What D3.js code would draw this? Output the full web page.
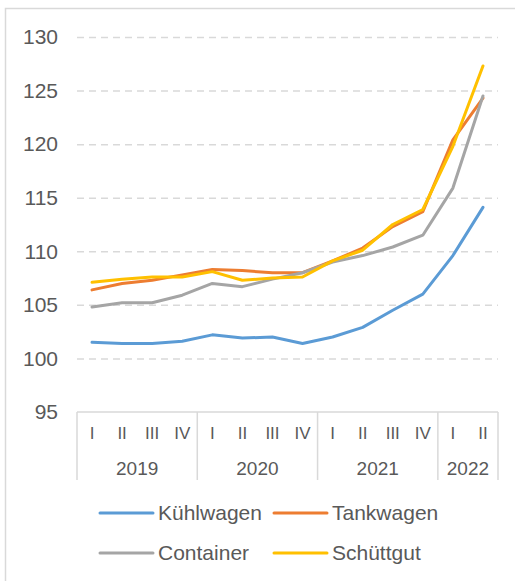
<!DOCTYPE html>
<html>
<head>
<meta charset="utf-8">
<script src="https://cdn.jsdelivr.net/npm/d3@7"></script>
<style>
  html, body { margin: 0; padding: 0; background: #fff; }
  svg { display: block; font-family: "Liberation Sans", Arial, sans-serif; }
</style>
</head>
<body>
<div id="chart"></div>
<script>
const quarters = ["I","II","III","IV","I","II","III","IV","I","II","III","IV","I","II"];
const years = [
  {label: "2019", start: 0, end: 3},
  {label: "2020", start: 4, end: 7},
  {label: "2021", start: 8, end: 11},
  {label: "2022", start: 12, end: 13}
];
const yTicks = [95, 100, 105, 110, 115, 120, 125, 130];

const kuehlwagen = [101.5, 101.4, 101.4, 101.6, 102.2, 101.9, 102.0, 101.4, 102.0, 102.9, 104.5, 106.0, 109.6, 114.1];
const tankwagen  = [106.4, 107.0, 107.3, 107.8, 108.3, 108.2, 108.0, 108.0, 109.1, 110.3, 112.3, 113.7, 120.4, 124.3];
const container  = [104.8, 105.2, 105.2, 105.9, 107.0, 106.7, 107.4, 108.0, 109.0, 109.6, 110.4, 111.5, 115.9, 124.5];
const schuettgut = [107.1, 107.4, 107.6, 107.6, 108.1, 107.3, 107.5, 107.6, 109.1, 110.1, 112.5, 113.9, 119.8, 127.3];

const seriesNames = ["Kühlwagen", "Tankwagen", "Container", "Schüttgut"];
const seriesValues = [kuehlwagen, tankwagen, container, schuettgut];
const seriesColors = ["#5B9BD5", "#ED7D31", "#A5A5A5", "#FFC000"];

(function () {
const W = 515, H = 581;
const pLeft = 77, pRight = 498, pTop = 37, pBottom = 412;
const textColor = "#595959", lineColor = "#D9D9D9";

const svg = d3.select("#chart").append("svg").attr("width", W).attr("height", H);

// outer frame
svg.append("rect").attr("x", 5.5).attr("y", 8.5).attr("width", 520).attr("height", 600)
  .attr("fill", "none").attr("stroke", lineColor).attr("stroke-width", 1.5);

const idx = d3.range(quarters.length);
const x = d3.scalePoint().domain(idx).range([pLeft, pRight]).padding(0.5);
const xb = d3.scaleBand().domain(idx).range([pLeft, pRight]);
const y = d3.scaleLinear().domain([95, 130]).range([pBottom, pTop]);

// gridlines + y labels
const gy = svg.append("g").attr("transform", `translate(${pLeft},0)`)
  .call(d3.axisLeft(y).tickValues(yTicks).tickSize(-(pRight - pLeft)).tickPadding(19).tickFormat(d3.format("d")));
gy.select(".domain").remove();
gy.selectAll(".tick line")
  .attr("stroke", d => d === 95 ? "none" : lineColor)
  .attr("stroke-width", 1.5).attr("stroke-dasharray", "7,5");
gy.selectAll(".tick text").attr("fill", textColor).attr("font-size", 21)
  .attr("font-family", "'Liberation Sans', Arial, sans-serif");

// category axis
const ax = svg.append("g");
ax.append("line").attr("x1", pLeft).attr("x2", pRight).attr("y1", pBottom).attr("y2", pBottom)
  .attr("stroke", lineColor).attr("stroke-width", 1.5);
const seps = [0].concat(years.map(d => d.end + 1));
ax.selectAll("line.sep").data(seps).enter().append("line").attr("class", "sep")
  .attr("x1", d => d < quarters.length ? xb(d) : pRight)
  .attr("x2", d => d < quarters.length ? xb(d) : pRight)
  .attr("y1", pBottom).attr("y2", 480)
  .attr("stroke", lineColor).attr("stroke-width", 1.5);
ax.selectAll("text.q").data(idx).enter().append("text").attr("class", "q")
  .attr("x", d => x(d)).attr("y", 433).attr("dy", "0.35em")
  .attr("text-anchor", "middle").attr("fill", textColor).attr("font-size", 17)
  .text(d => quarters[d]);
ax.selectAll("text.yr").data(years).enter().append("text").attr("class", "yr")
  .attr("x", d => (xb(d.start) + xb(d.end) + xb.bandwidth()) / 2).attr("y", 468).attr("dy", "0.35em")
  .attr("text-anchor", "middle").attr("fill", textColor).attr("font-size", 19)
  .text(d => d.label);

// lines
const line = d3.line().x((d, i) => x(i)).y(d => y(d));
svg.append("g").selectAll("path").data(seriesValues).enter().append("path")
  .attr("d", d => line(d)).attr("fill", "none")
  .attr("stroke", (d, i) => seriesColors[i]).attr("stroke-width", 3)
  .attr("stroke-linejoin", "round").attr("stroke-linecap", "round");

// legend
const legPos = [[100, 513], [274, 513], [100, 553], [274, 553]];
const leg = svg.append("g").selectAll("g").data(seriesNames).enter().append("g")
  .attr("transform", (d, i) => `translate(${legPos[i][0]},${legPos[i][1]})`);
leg.append("line").attr("x1", 0).attr("x2", 53).attr("y1", 0).attr("y2", 0)
  .attr("stroke", (d, i) => seriesColors[i]).attr("stroke-width", 3).attr("stroke-linecap", "round");
leg.append("text").attr("x", 58).attr("y", 0).attr("dy", "0.35em")
  .attr("fill", textColor).attr("font-size", 21).text(d => d);
})();
</script>
</body>
</html>
